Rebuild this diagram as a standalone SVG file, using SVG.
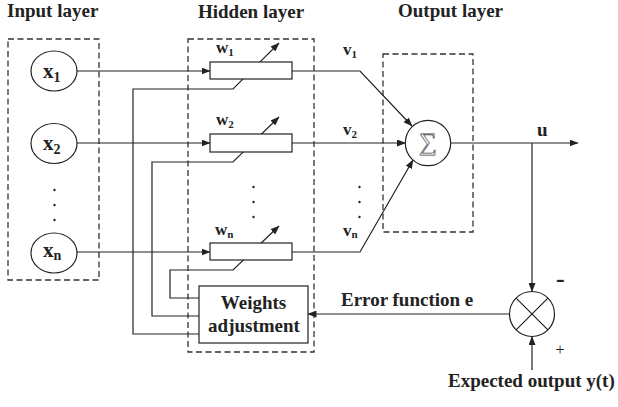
<svg xmlns="http://www.w3.org/2000/svg" width="618" height="407" viewBox="0 0 618 407">
<style>
text{font-family:"Liberation Serif","Times New Roman",serif;font-weight:bold;fill:#222}
.t{font-size:19px}
.dash{fill:none;stroke:#333;stroke-width:1.3;stroke-dasharray:6 3.5}
.ln{fill:none;stroke:#222;stroke-width:1.2}
.arr{fill:none;stroke:#222;stroke-width:1.2;marker-end:url(#ah)}
.box{fill:#fff;stroke:#222;stroke-width:1.2}
.dot{fill:#222}
</style>
<defs>
<marker id="ah" markerWidth="9" markerHeight="7" refX="8.5" refY="3.5" orient="auto" markerUnits="userSpaceOnUse">
<path d="M0,0 L9,3.5 L0,7 z" fill="#222"/>
</marker>
</defs>
<rect width="618" height="407" fill="#fff"/>

<g id="titles">
<text class="t" x="7" y="17">Input layer</text>
<text class="t" x="198" y="18">Hidden layer</text>
<text class="t" x="398" y="17">Output layer</text>
</g>

<g id="layers">
<rect class="dash" x="8" y="39" width="91" height="241"/>
<rect class="dash" x="188" y="39" width="126" height="313"/>
<rect class="dash" x="383" y="54" width="90" height="178"/>
</g>

<g id="connectors">
<path class="arr" d="M77,71 H210"/>
<path class="arr" d="M77,143 H210"/>
<path class="arr" d="M77,252 H210"/>
<path class="arr" d="M292,71 H360 L412,126"/>
<path class="arr" d="M292,143 H405.5"/>
<path class="arr" d="M292,252 H360 L413,160"/>
<path class="arr" d="M451,143 H578"/>
<path class="arr" d="M532,143 V291.5"/>
<path class="arr" d="M532,370 V336.5"/>
<path class="arr" d="M509.5,314 H308"/>
<path class="arr" d="M199,334 H133 V89 H233 L279,43"/>
<path class="arr" d="M199,316 H152 V162 H233 L279,117"/>
<path class="arr" d="M199,298 H170 V270 H233 L279,226"/>
</g>

<g id="x1">
<ellipse class="box" cx="54" cy="71" rx="23" ry="20"/>
<text x="43" y="78" font-size="21">x<tspan font-size="14" dy="4">1</tspan></text>
</g>
<g id="x2">
<ellipse class="box" cx="54" cy="143.5" rx="23" ry="20"/>
<text x="43" y="150" font-size="21">x<tspan font-size="14" dy="4">2</tspan></text>
</g>
<g id="xdots">
<circle class="dot" cx="54.5" cy="190" r="1.2"/>
<circle class="dot" cx="54.5" cy="205" r="1.2"/>
<circle class="dot" cx="54.5" cy="220" r="1.2"/>
</g>
<g id="xn">
<ellipse class="box" cx="54" cy="253" rx="23" ry="20"/>
<text x="43" y="257" font-size="21">x<tspan font-size="14" dy="3">n</tspan></text>
</g>

<g id="w1">
<rect class="box" x="210" y="62" width="82" height="17"/>
<text x="216" y="53" font-size="17">w<tspan font-size="11" dy="3">1</tspan></text>
</g>
<g id="w2">
<rect class="box" x="210" y="134" width="82" height="18"/>
<text x="216" y="125" font-size="17">w<tspan font-size="11" dy="3">2</tspan></text>
</g>
<g id="wdots">
<circle class="dot" cx="253.5" cy="187" r="1.2"/>
<circle class="dot" cx="253.5" cy="202" r="1.2"/>
<circle class="dot" cx="253.5" cy="217" r="1.2"/>
</g>
<g id="wn">
<rect class="box" x="210" y="243" width="82" height="17"/>
<text x="215" y="235" font-size="17">w<tspan font-size="11" dy="3">n</tspan></text>
</g>

<g id="vlabels">
<text x="343" y="55" font-size="17">v<tspan font-size="11" dy="2.5">1</tspan></text>
<text x="343" y="135" font-size="17">v<tspan font-size="11" dy="2.5">2</tspan></text>
<circle class="dot" cx="359.5" cy="187" r="1.2"/>
<circle class="dot" cx="359.5" cy="202" r="1.2"/>
<circle class="dot" cx="359.5" cy="217" r="1.2"/>
<text x="343" y="235.5" font-size="17">v<tspan font-size="11" dy="2.5">n</tspan></text>
</g>

<g id="sum">
<circle class="box" cx="428" cy="143" r="22.7"/>
<text x="428" y="150" font-size="25" text-anchor="middle" style="font-weight:normal;fill:#fff;stroke:#444;stroke-width:0.7">∑</text>
</g>

<g id="u">
<text x="537" y="136" font-size="19">u</text>
</g>

<g id="weights">
<rect class="box" x="199" y="286" width="109" height="57"/>
<text class="t" x="253.5" y="309" text-anchor="middle">Weights</text>
<text class="t" x="254" y="332" text-anchor="middle">adjustment</text>
</g>

<g id="error">
<text class="t" x="341" y="306">Error function e</text>
</g>

<g id="compare">
<circle class="box" cx="532" cy="314" r="22.5"/>
<path class="ln" d="M516.1,298.1 L547.9,329.9 M547.9,298.1 L516.1,329.9"/>
<text x="556" y="287" font-size="26">-</text>
<text x="560" y="355" font-size="16" text-anchor="middle" style="font-weight:normal">+</text>
</g>

<g id="expected">
<text class="t" x="448" y="387">Expected output y(t)</text>
</g>
</svg>
